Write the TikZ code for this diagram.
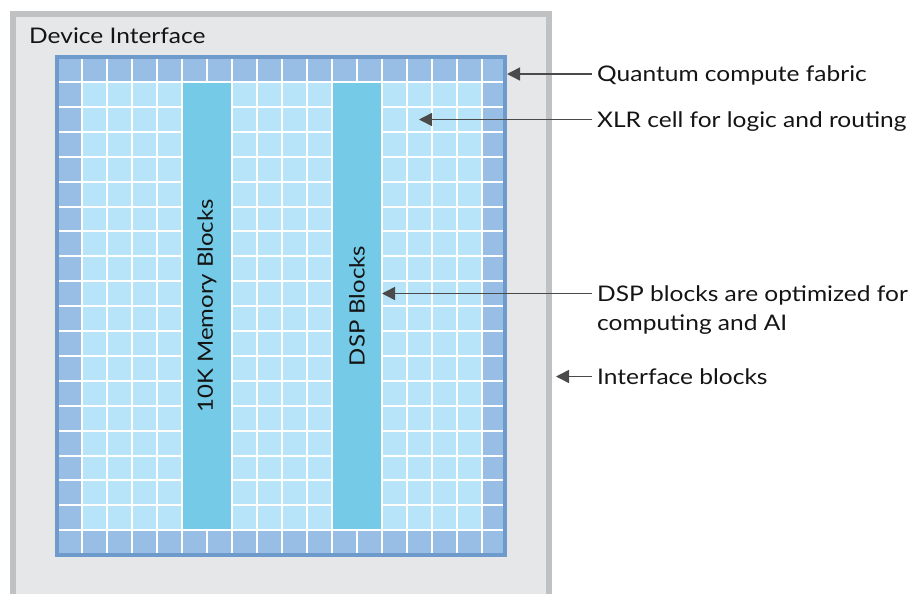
\documentclass[tikz,border=0pt]{standalone}
\usepackage{fontspec}
\setmainfont{Lato}[FakeStretch=1.14]
\usetikzlibrary{arrows.meta}
\definecolor{outerfill}{HTML}{E6E7E8}
\definecolor{outerline}{HTML}{C0C1C2}
\definecolor{frameblue}{HTML}{6F9BCC}
\definecolor{edgecell}{HTML}{98BEE6}
\definecolor{innercell}{HTML}{B7E4F8}
\definecolor{blockblue}{HTML}{75CBE7}
\definecolor{arrowgray}{HTML}{4A4A4A}
\definecolor{textcol}{HTML}{141414}
\begin{document}
\begin{tikzpicture}[x=1pt,y=-1pt,
  lbl/.style={font=\fontsize{21.5}{29}\selectfont, text=textcol, inner xsep=5pt, inner ysep=0pt, anchor=base west, align=left},
  titlelbl/.style={font=\fontsize{21.5}{25}\selectfont, text=textcol, inner sep=0pt, anchor=base west},
  callout/.style={draw=arrowgray, line width=1.5pt, -{Triangle[length=13pt,width=13pt]}},
  gridline/.style={white, line width=2pt},
  blockbox/.style={fill=blockblue, inner sep=0pt, rotate=90, minimum height=48pt, minimum width=446pt,
    font=\fontsize{21}{25}\selectfont, text=textcol}]
\useasboundingbox (0,0) rectangle (912,594);
% outer device box
\fill[outerfill] (13,14) rectangle (549,594);
\draw[outerline, line width=6pt] (13,594) -- (13,14) -- (549,14) -- (549,594);
\node[titlelbl] (dev) at (29,44) {Device Interface};
% fabric grid
\fill[edgecell] (59,59) rectangle (503,553);
\fill[innercell] (82,82) rectangle (482,530.2);
\foreach \k in {0,...,16} \draw[gridline] (82+25*\k,59) -- (82+25*\k,553);
\foreach \k in {0,...,18} \draw[gridline] (59,82+24.9*\k) -- (503,82+24.9*\k);
\draw[frameblue, line width=4pt] (57,57) rectangle (505,555);
% blocks
\node[blockbox] (mem) at (207,306) {10K Memory Blocks};
\node[blockbox] (dsp) at (357,306) {DSP Blocks};
% labels
\node[lbl] (qlabel) at (592,81.5) {Quantum compute fabric};
\node[lbl] (xlabel) at (592,127) {XLR cell for logic and routing};
\node[lbl] (dlabel) at (592,330) {DSP blocks are optimized for\\computing and AI};
\node[lbl] (ilabel) at (592,384) {Interface blocks};
% arrow tips
\coordinate (qtip) at (507,74);
\coordinate (xtip) at (419,119.5);
\coordinate (dtip) at (382,293.5);
\coordinate (itip) at (556,376.5);
\draw[callout] (qlabel.west |- qtip) -- (qtip);
\draw[callout] (xlabel.west |- xtip) -- (xtip);
\draw[callout] (dlabel.west |- dtip) -- (dtip);
\draw[callout] (ilabel.west |- itip) -- (itip);
\end{tikzpicture}
\end{document}
